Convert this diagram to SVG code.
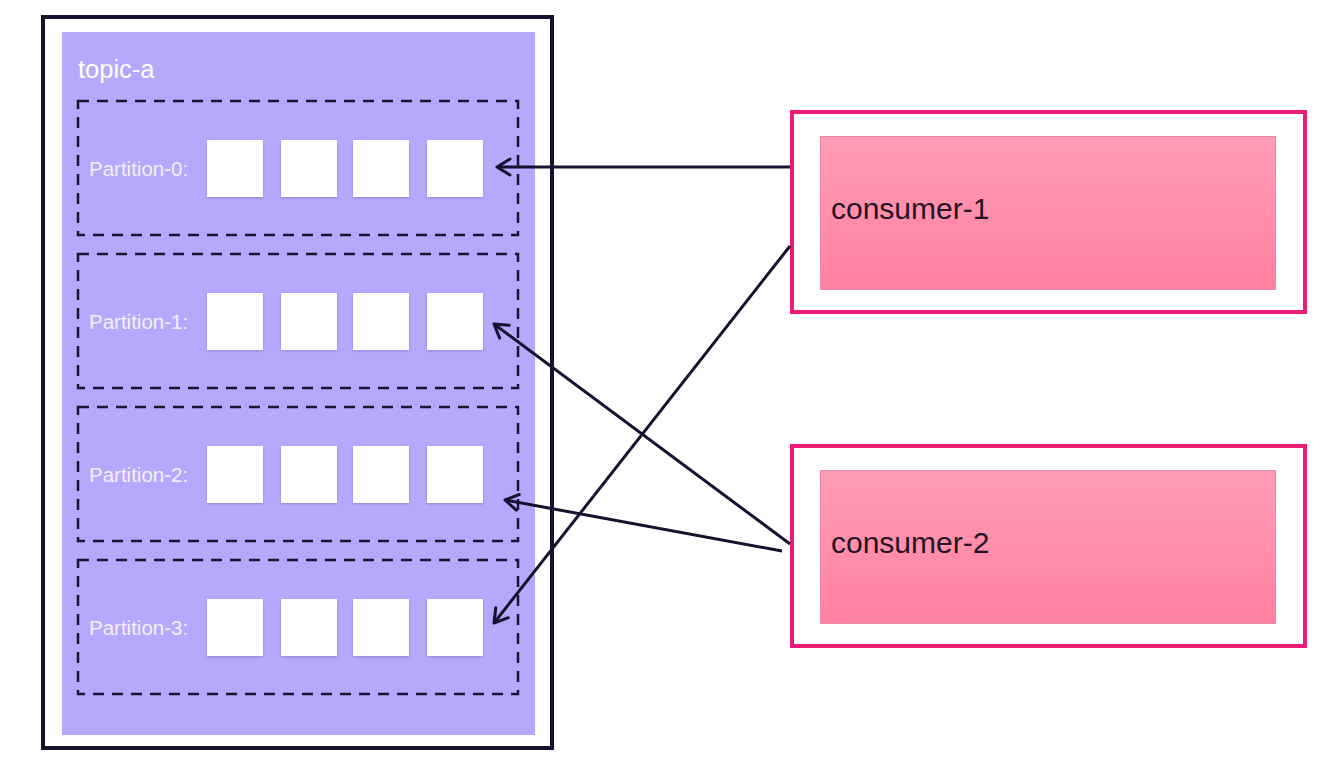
<svg xmlns="http://www.w3.org/2000/svg" width="1329" height="769" viewBox="0 0 1329 769">
  <style>
    .part { fill: none; stroke: #1A1433; stroke-width: 2.5; stroke-dasharray: 11 8; }
    .sq { fill: #FFFFFF; filter: url(#sh); }
    .plabel { font-family: "Liberation Sans", Arial, sans-serif; font-size: 20.5px; fill: #F4F1FF; }
    .clabel { font-family: "Liberation Sans", Arial, sans-serif; font-size: 30px; fill: #241226; }
    .outer { fill: #FFFFFF; stroke: #EC1C74; stroke-width: 4; }
    .inner { fill: url(#pg); stroke: #E58AA5; stroke-width: 1; }
    .conn { stroke: #17112E; stroke-width: 3; fill: none; marker-end: url(#ah); }
  </style>
  <defs>
    <linearGradient id="pg" x1="0" y1="0" x2="0" y2="1">
      <stop offset="0" stop-color="#FF9DB6"/>
      <stop offset="1" stop-color="#FF80A0"/>
    </linearGradient>
    <filter id="sh" x="-10%" y="-10%" width="120%" height="130%">
      <feDropShadow dx="0" dy="1" stdDeviation="0.8" flood-color="#4B3A8A" flood-opacity="0.35"/>
    </filter>
    <marker id="ah" markerUnits="userSpaceOnUse" viewBox="-16 -10 19 20" refX="0" refY="0" markerWidth="19" markerHeight="20" orient="auto">
      <path d="M-13,-8 L0,0 L-13,8" fill="none" stroke="#17112E" stroke-width="3" stroke-linecap="round" stroke-linejoin="round"/>
    </marker>
  </defs>
  <rect width="1329" height="769" fill="#FFFFFF"/>

  <g id="topic-a">
    <rect x="43" y="17" width="509" height="731" fill="#FFFFFF" stroke="#17112E" stroke-width="4"/>
    <rect x="62" y="32" width="473" height="703" fill="#B6A8FC"/>
    <text x="78" y="78" font-family="Liberation Sans, Arial, sans-serif" font-size="25.5" fill="#FFFFFF">topic-a</text>
  </g>

  <g id="partition-0">
    <rect class="part" x="78" y="101" width="440" height="134"/>
    <text class="plabel" x="89" y="176">Partition-0:</text>
    <rect class="sq" x="207" y="140" width="56" height="57"/>
    <rect class="sq" x="281" y="140" width="56" height="57"/>
    <rect class="sq" x="353" y="140" width="56" height="57"/>
    <rect class="sq" x="427" y="140" width="56" height="57"/>
  </g>
  <g id="partition-1">
    <rect class="part" x="78" y="254" width="440" height="134"/>
    <text class="plabel" x="89" y="329">Partition-1:</text>
    <rect class="sq" x="207" y="293" width="56" height="57"/>
    <rect class="sq" x="281" y="293" width="56" height="57"/>
    <rect class="sq" x="353" y="293" width="56" height="57"/>
    <rect class="sq" x="427" y="293" width="56" height="57"/>
  </g>
  <g id="partition-2">
    <rect class="part" x="78" y="407" width="440" height="134"/>
    <text class="plabel" x="89" y="482">Partition-2:</text>
    <rect class="sq" x="207" y="446" width="56" height="57"/>
    <rect class="sq" x="281" y="446" width="56" height="57"/>
    <rect class="sq" x="353" y="446" width="56" height="57"/>
    <rect class="sq" x="427" y="446" width="56" height="57"/>
  </g>
  <g id="partition-3">
    <rect class="part" x="78" y="560" width="440" height="134"/>
    <text class="plabel" x="89" y="635">Partition-3:</text>
    <rect class="sq" x="207" y="599" width="56" height="57"/>
    <rect class="sq" x="281" y="599" width="56" height="57"/>
    <rect class="sq" x="353" y="599" width="56" height="57"/>
    <rect class="sq" x="427" y="599" width="56" height="57"/>
  </g>

  <g id="consumer-1">
    <rect class="outer" x="792" y="112" width="513" height="200"/>
    <rect class="inner" x="820.5" y="136.5" width="455" height="153"/>
    <text class="clabel" x="831" y="219">consumer-1</text>
  </g>
  <g id="consumer-2">
    <rect class="outer" x="792" y="446" width="513" height="200"/>
    <rect class="inner" x="820.5" y="470.5" width="455" height="153"/>
    <text class="clabel" x="831" y="553">consumer-2</text>
  </g>

  <g id="connectors">
    <line class="conn" x1="790" y1="167" x2="497" y2="167"/>
    <line class="conn" x1="790" y1="246" x2="494" y2="623"/>
    <line class="conn" x1="790" y1="544" x2="494" y2="324"/>
    <line class="conn" x1="782" y1="551" x2="505" y2="500"/>
  </g>
</svg>
